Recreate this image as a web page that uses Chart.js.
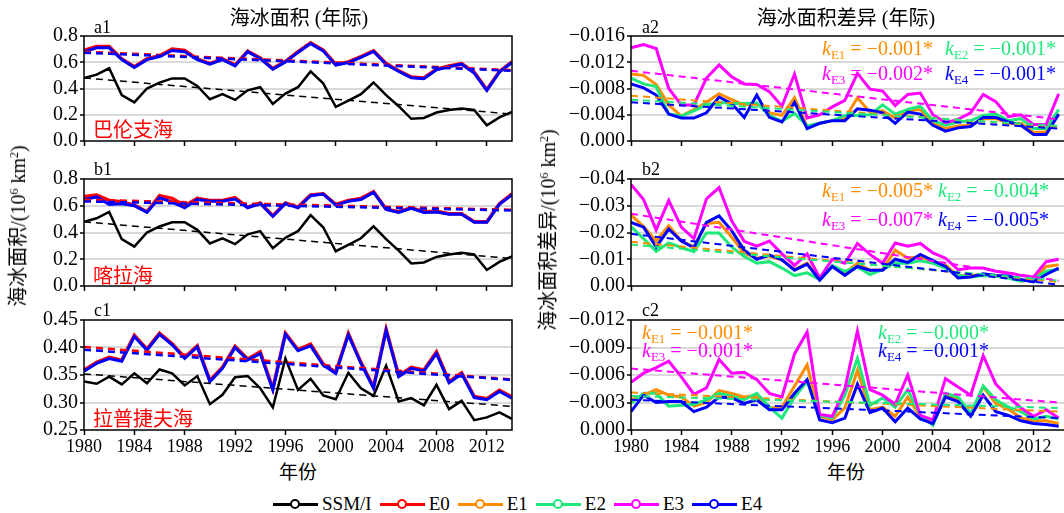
<!DOCTYPE html>
<html>
<head>
<meta charset="utf-8">
<script src="https://cdn.jsdelivr.net/npm/chart.js@4.4.1/dist/chart.umd.min.js"></script>
<style>
    html, body { margin: 0; padding: 0; background: #fff; overflow: hidden; }
    body { width: 1064px; height: 513px; position: relative; font-family: "Liberation Serif", "Noto Sans CJK SC", serif; color: #000; }
    canvas { position: absolute; }
    .t { position: absolute; white-space: nowrap; line-height: 1; }
    .mid { transform: translate(-50%, -50%); }
    .vmid { transform: translateY(-50%); }
    .ytitle { transform: translate(-50%, -50%) rotate(-90deg); font-size: 20px; }
    .ytitle sup { font-size: 12px; vertical-align: 7px; line-height: 0; }
    .sea { font-size: 20px; color: #ff0000; }
    .k { font-size: 20px; }
    .k sub { font-size: 13px; vertical-align: -4px; line-height: 0; }
    #legend { position: absolute; left: 273px; top: 493px; display: flex; align-items: center; font-size: 19px; }
    .item { display: flex; align-items: center; margin-right: 8px; }
    .sw { position: relative; width: 45px; height: 20px; margin-right: 4px; }
    .sw .ln { position: absolute; left: 0; right: 0; top: 8.5px; height: 3px; }
    .sw .dot { position: absolute; left: 17px; top: 5px; width: 6px; height: 6px; border-radius: 50%; background: #fff; border-width: 2.5px; border-style: solid; }
</style>
</head>
<body>

<canvas id="a1" width="530" height="133" style="left:0;top:22px"></canvas>
<canvas id="b1" width="530" height="135" style="left:0;top:165px"></canvas>
<canvas id="c1" width="530" height="154" style="left:0;top:306px"></canvas>
<canvas id="a2" width="545" height="133" style="left:530px;top:22px"></canvas>
<canvas id="b2" width="545" height="135" style="left:530px;top:165px"></canvas>
<canvas id="c2" width="545" height="154" style="left:530px;top:306px"></canvas>

<div class="t mid" style="left:299px;top:18px;font-size:20px">海冰面积 (年际)</div>
<div class="t mid" style="left:846px;top:18px;font-size:20px">海冰面积差异 (年际)</div>

<div class="t vmid" style="left:94px;top:27px;font-size:18px">a1</div>
<div class="t vmid" style="left:94px;top:169px;font-size:18px">b1</div>
<div class="t vmid" style="left:94px;top:310px;font-size:18px">c1</div>
<div class="t vmid" style="left:642px;top:27px;font-size:18px">a2</div>
<div class="t vmid" style="left:642px;top:169px;font-size:18px">b2</div>
<div class="t vmid" style="left:642px;top:310px;font-size:18px">c2</div>

<div class="t vmid sea" style="left:93px;top:130px">巴伦支海</div>
<div class="t vmid sea" style="left:93px;top:276px">喀拉海</div>
<div class="t vmid sea" style="left:93px;top:419px">拉普捷夫海</div>

<div class="t ytitle" style="left:18px;top:226px">海冰面积/(10<sup>6</sup> km<sup>2</sup>)</div>
<div class="t ytitle" style="left:548px;top:230px">海冰面积差异/(10<sup>6</sup> km<sup>2</sup>)</div>

<div class="t mid" style="left:298px;top:472px;font-size:19px">年份</div>
<div class="t mid" style="left:846px;top:472px;font-size:19px">年份</div>

<div id="legend"></div>

<script>
// years on the x axis
const years = [1980, 1981, 1982, 1983, 1984, 1985, 1986, 1987, 1988, 1989,
    1990, 1991, 1992, 1993, 1994, 1995, 1996, 1997, 1998, 1999,
    2000, 2001, 2002, 2003, 2004, 2005, 2006, 2007, 2008, 2009,
    2010, 2011, 2012, 2013, 2014];

const seriesNames = ["SSM/I", "E0", "E1", "E2", "E3", "E4"];
const seriesColors = ["#000000", "#ff0000", "#ff8c00", "#1ee87a", "#ff00ff", "#0000ff"];

// a1 Barents Sea (10^6 km^2)
const barentsSsmi = [0.48, 0.506, 0.554, 0.35, 0.294, 0.40, 0.445, 0.477, 0.477, 0.42, 0.318, 0.357, 0.313, 0.386, 0.41, 0.282, 0.361, 0.41, 0.53, 0.439, 0.26, 0.308, 0.357, 0.446, 0.35, 0.265, 0.169, 0.176, 0.217, 0.236, 0.248, 0.236, 0.12, 0.18, 0.222];
const barentsE0 = [0.69, 0.72, 0.72, 0.625, 0.565, 0.625, 0.65, 0.70, 0.69, 0.625, 0.59, 0.625, 0.578, 0.685, 0.632, 0.552, 0.607, 0.68, 0.748, 0.692, 0.583, 0.603, 0.643, 0.687, 0.59, 0.535, 0.487, 0.48, 0.547, 0.571, 0.59, 0.523, 0.391, 0.53, 0.603];
const barentsE4 = [0.68, 0.71, 0.71, 0.62, 0.56, 0.62, 0.643, 0.69, 0.68, 0.62, 0.585, 0.62, 0.573, 0.68, 0.627, 0.547, 0.602, 0.675, 0.742, 0.687, 0.578, 0.598, 0.638, 0.682, 0.585, 0.53, 0.482, 0.475, 0.542, 0.566, 0.585, 0.518, 0.386, 0.525, 0.598];
const barentsTrendSsmi = [0.48, 0.205];
const barentsTrendE0 = [0.68, 0.54];
const barentsTrendE4 = [0.672, 0.535];

// b1 Kara Sea
const karaSsmi = [0.48, 0.506, 0.554, 0.35, 0.294, 0.40, 0.445, 0.477, 0.477, 0.42, 0.318, 0.357, 0.313, 0.386, 0.41, 0.282, 0.361, 0.41, 0.53, 0.439, 0.26, 0.308, 0.357, 0.446, 0.35, 0.265, 0.169, 0.176, 0.217, 0.236, 0.248, 0.236, 0.12, 0.18, 0.222];
const karaE0 = [0.67, 0.68, 0.64, 0.63, 0.605, 0.555, 0.675, 0.655, 0.60, 0.655, 0.64, 0.64, 0.66, 0.59, 0.62, 0.525, 0.62, 0.59, 0.68, 0.69, 0.61, 0.64, 0.655, 0.705, 0.575, 0.555, 0.585, 0.555, 0.558, 0.54, 0.54, 0.48, 0.48, 0.615, 0.688];
const karaE4 = [0.646, 0.666, 0.61, 0.615, 0.60, 0.55, 0.66, 0.627, 0.585, 0.646, 0.634, 0.634, 0.65, 0.585, 0.617, 0.52, 0.617, 0.585, 0.675, 0.688, 0.605, 0.634, 0.646, 0.70, 0.573, 0.55, 0.58, 0.55, 0.553, 0.537, 0.537, 0.476, 0.476, 0.61, 0.683];
const karaTrendSsmi = [0.48, 0.205];
const karaTrendE0 = [0.645, 0.57];
const karaTrendE4 = [0.632, 0.565];

// c1 Laptev Sea
const laptevSsmi = [0.338, 0.334, 0.347, 0.333, 0.353, 0.335, 0.36, 0.353, 0.331, 0.348, 0.297, 0.314, 0.346, 0.348, 0.326, 0.291, 0.38, 0.323, 0.343, 0.313, 0.306, 0.354, 0.326, 0.312, 0.367, 0.302, 0.308, 0.295, 0.332, 0.288, 0.303, 0.268, 0.273, 0.282, 0.27];
const laptevE0 = [0.359, 0.373, 0.382, 0.377, 0.422, 0.397, 0.426, 0.407, 0.382, 0.403, 0.34, 0.364, 0.402, 0.379, 0.392, 0.325, 0.426, 0.396, 0.406, 0.37, 0.355, 0.425, 0.373, 0.328, 0.433, 0.349, 0.364, 0.359, 0.392, 0.338, 0.354, 0.311, 0.307, 0.322, 0.31];
const laptevE4 = [0.357, 0.371, 0.38, 0.375, 0.42, 0.395, 0.424, 0.405, 0.38, 0.401, 0.338, 0.362, 0.40, 0.377, 0.389, 0.323, 0.424, 0.394, 0.403, 0.368, 0.353, 0.423, 0.371, 0.326, 0.431, 0.347, 0.362, 0.357, 0.389, 0.336, 0.352, 0.309, 0.305, 0.32, 0.308];
const laptevTrendSsmi = [0.352, 0.293];
const laptevTrendE0 = [0.401, 0.342];
const laptevTrendE4 = [0.396, 0.341];

// a2 Barents difference
const barentsDiffE1 = [-0.0102, -0.0100, -0.0086, -0.0055, -0.0038, -0.0048, -0.0059, -0.0072, -0.0063, -0.0055, -0.0057, -0.0043, -0.0039, -0.0066, -0.0022, -0.0027, -0.0031, -0.0034, -0.0066, -0.0044, -0.0046, -0.0035, -0.0046, -0.0048, -0.0027, -0.0019, -0.0023, -0.0024, -0.0034, -0.0034, -0.0027, -0.0027, -0.0013, -0.0014, -0.0041];
const barentsDiffE2 = [-0.0096, -0.0087, -0.0083, -0.0041, -0.0038, -0.0046, -0.0055, -0.0059, -0.0057, -0.0057, -0.0058, -0.0039, -0.0030, -0.0042, -0.0023, -0.0027, -0.0031, -0.0039, -0.0039, -0.0040, -0.0055, -0.0041, -0.0048, -0.0053, -0.0031, -0.0024, -0.0029, -0.0031, -0.0039, -0.0041, -0.0031, -0.0034, -0.0019, -0.0019, -0.0048];
const barentsDiffE3 = [-0.0142, -0.0147, -0.0141, -0.0080, -0.0055, -0.0055, -0.0096, -0.0116, -0.0098, -0.0087, -0.0086, -0.0075, -0.0053, -0.0102, -0.0035, -0.0040, -0.0052, -0.0062, -0.0103, -0.0079, -0.0076, -0.0054, -0.0071, -0.0073, -0.0040, -0.0028, -0.0033, -0.0043, -0.0071, -0.0060, -0.0037, -0.0040, -0.0025, -0.0025, -0.0072];
const barentsDiffE4 = [-0.0087, -0.0081, -0.0070, -0.0041, -0.0035, -0.0035, -0.0043, -0.0067, -0.0057, -0.0036, -0.0070, -0.0036, -0.0029, -0.0059, -0.0019, -0.0027, -0.0031, -0.0031, -0.0049, -0.0047, -0.0043, -0.0027, -0.0044, -0.0041, -0.0024, -0.0015, -0.0020, -0.0022, -0.0036, -0.0036, -0.0029, -0.0024, -0.0010, -0.0010, -0.0041];
const barentsDiffTrend = [[-0.0069, -0.0021], [-0.0063, -0.0023], [-0.0107, -0.0033], [-0.0059, -0.0019]];
const barentsK = ["−0.001*", "−0.001*", "−0.002*", "−0.001*"];

// b2 Kara difference
const karaDiffE1 = [-0.0266, -0.0222, -0.0168, -0.0226, -0.0168, -0.0146, -0.0234, -0.0238, -0.0183, -0.0122, -0.0104, -0.0112, -0.0098, -0.0061, -0.0085, -0.0027, -0.0073, -0.0049, -0.0085, -0.0059, -0.0061, -0.0134, -0.0104, -0.0110, -0.0091, -0.0079, -0.0037, -0.0039, -0.0043, -0.0039, -0.0034, -0.0018, -0.0024, -0.0073, -0.0079];
const karaDiffE2 = [-0.0222, -0.0177, -0.0130, -0.0161, -0.0144, -0.0128, -0.0198, -0.0198, -0.0146, -0.0110, -0.0085, -0.0091, -0.0067, -0.0039, -0.0049, -0.0024, -0.0076, -0.0055, -0.0071, -0.0043, -0.0061, -0.0085, -0.0085, -0.0094, -0.0085, -0.0067, -0.0039, -0.0034, -0.0039, -0.0037, -0.0030, -0.0018, -0.0027, -0.0055, -0.0063];
const karaDiffE3 = [-0.0380, -0.0323, -0.0210, -0.0320, -0.0220, -0.0177, -0.0326, -0.0368, -0.0244, -0.0167, -0.0149, -0.0168, -0.0120, -0.0077, -0.0120, -0.0030, -0.0100, -0.0085, -0.0159, -0.0118, -0.0085, -0.0161, -0.0149, -0.0159, -0.0124, -0.0104, -0.0061, -0.0067, -0.0067, -0.0055, -0.0049, -0.0039, -0.0034, -0.0091, -0.0100];
const karaDiffE4 = [-0.0238, -0.0220, -0.0146, -0.0213, -0.0168, -0.0143, -0.0238, -0.0262, -0.0207, -0.0134, -0.0100, -0.0116, -0.0098, -0.0059, -0.0082, -0.0022, -0.0073, -0.0040, -0.0073, -0.0059, -0.0059, -0.0100, -0.0088, -0.0118, -0.0095, -0.0073, -0.0030, -0.0034, -0.0046, -0.0039, -0.0037, -0.0024, -0.0015, -0.0043, -0.0067];
const karaDiffTrend = [[-0.0165, -0.0015], [-0.0155, -0.0020], [-0.0270, -0.0020], [-0.0195, -0.0005]];
const karaK = ["−0.005*", "−0.004*", "−0.007*", "−0.005*"];

// c2 Laptev difference
const laptevDiffE1 = [-0.0033, -0.0038, -0.0044, -0.0038, -0.0036, -0.0026, -0.0030, -0.0043, -0.0040, -0.0036, -0.0038, -0.0024, -0.0025, -0.0048, -0.0071, -0.0015, -0.0011, -0.0024, -0.0065, -0.0022, -0.0025, -0.0015, -0.0036, -0.0014, -0.0007, -0.0038, -0.0033, -0.0016, -0.0047, -0.0029, -0.0023, -0.0013, -0.0010, -0.0010, -0.0007];
const laptevDiffE2 = [-0.0029, -0.0040, -0.0040, -0.0026, -0.0027, -0.0028, -0.0033, -0.0040, -0.0037, -0.0033, -0.0040, -0.0025, -0.0013, -0.0036, -0.0053, -0.0016, -0.0013, -0.0038, -0.0078, -0.0027, -0.0035, -0.0025, -0.0044, -0.0016, -0.0005, -0.0040, -0.0036, -0.0018, -0.0048, -0.0033, -0.0025, -0.0020, -0.0012, -0.0015, -0.0012];
const laptevDiffE3 = [-0.0052, -0.0062, -0.0068, -0.0075, -0.0058, -0.0039, -0.0046, -0.0077, -0.0062, -0.0063, -0.0055, -0.0040, -0.0036, -0.0083, -0.0107, -0.0017, -0.0015, -0.0045, -0.0108, -0.0044, -0.0038, -0.0028, -0.0060, -0.0016, -0.0011, -0.0056, -0.0047, -0.0038, -0.0081, -0.0050, -0.0036, -0.0024, -0.0015, -0.0022, -0.0013];
const laptevDiffE4 = [-0.0020, -0.0038, -0.0030, -0.0031, -0.0031, -0.0020, -0.0025, -0.0036, -0.0035, -0.0029, -0.0033, -0.0022, -0.0022, -0.0040, -0.0055, -0.0011, -0.0008, -0.0013, -0.0050, -0.0019, -0.0024, -0.0009, -0.0024, -0.0012, -0.0007, -0.0036, -0.0031, -0.0015, -0.0038, -0.0020, -0.0016, -0.0010, -0.0007, -0.0006, -0.0004];
const laptevDiffTrend = [[-0.0041, -0.0020], [-0.0037, -0.0024], [-0.0067, -0.0030], [-0.0033, -0.0013]];
const laptevK = ["−0.001*", "−0.000*", "−0.001*", "−0.001*"];

Chart.defaults.font.family = '"Liberation Serif", "Noto Sans CJK SC", serif';
Chart.defaults.font.size = 18;
Chart.defaults.color = "#000";

const framePlugin = {
    id: "frame",
    afterDraw(chart) {
        const a = chart.chartArea;
        const ctx = chart.ctx;
        ctx.save();
        ctx.strokeStyle = "#000";
        ctx.lineWidth = 1.5;
        ctx.strokeRect(a.left, a.top, a.right - a.left, a.bottom - a.top);
        ctx.restore();
    }
};

function solid(data, color, width, order) {
    return { data, borderColor: color, borderWidth: width, pointRadius: 0, tension: 0, fill: false, order };
}

function trend(ends, color, width, order) {
    return {
        data: [{ x: years[0], y: ends[0] }, { x: years[years.length - 1], y: ends[1] }],
        borderColor: color, borderWidth: width, borderDash: [7, 5], pointRadius: 0, fill: false, order
    };
}

function fmt(v, dec) {
    const s = (Math.abs(v) < 1e-9 ? 0 : v).toFixed(dec);
    return s.replace("-", "\u2212");
}

function drawPanel(id, opt) {
    const canvas = document.getElementById(id);
    new Chart(canvas, {
        type: "line",
        data: { labels: years, datasets: opt.datasets },
        options: {
            responsive: false,
            animation: false,
            devicePixelRatio: 1,
            layout: { padding: { left: 0, right: opt.padRight, top: 14, bottom: opt.labels ? 0 : 4 } },
            plugins: { legend: { display: false }, tooltip: { enabled: false } },
            scales: {
                x: {
                    type: "linear",
                    min: 1980,
                    max: opt.xMax,
                    border: { display: false },
                    grid: { drawOnChartArea: false, tickLength: 5, tickColor: "#000", tickWidth: 1.5 },
                    ticks: {
                        display: opt.labels,
                        stepSize: 4,
                        includeBounds: false,
                        autoSkip: false,
                        maxRotation: 0,
                        padding: 1,
                        font: { size: 18 },
                        callback: (v) => String(v)
                    },
                    afterFit: (s) => { s.height = opt.labels ? 30 : 8; }
                },
                y: {
                    min: opt.min,
                    max: opt.max,
                    reverse: !!opt.reverse,
                    border: { display: false },
                    grid: {
                        lineWidth: 2,
                        color: (c) => (c.index === 0 || c.index === opt.nTicks - 1) ? "rgba(0,0,0,0)" : "#d9d9d9",
                        tickLength: 4,
                        tickColor: "#000",
                        tickWidth: 1.5
                    },
                    ticks: {
                        stepSize: opt.step,
                        autoSkip: false,
                        padding: 2,
                        font: { size: 20 },
                        callback: (v) => fmt(v, opt.dec)
                    },
                    afterFit: (s) => { s.width = opt.yWidth; }
                }
            }
        },
        plugins: [framePlugin]
    });
}

function leftSets(ssmi, e0, e4, tS, t0, t4) {
    return [
        trend(t4, seriesColors[5], 2.5, -3),
        trend(t0, seriesColors[1], 2.5, -2),
        trend(tS, seriesColors[0], 1.5, -1),
        solid(e4, seriesColors[5], 3, 0),
        solid(e0, seriesColors[1], 3.5, 4),
        solid(ssmi, seriesColors[0], 2.5, 5)
    ];
}

function rightSets(e1, e2, e3, e4, tr) {
    return [
        trend(tr[3], seriesColors[5], 2, -4),
        trend(tr[2], seriesColors[4], 2, -3),
        trend(tr[1], seriesColors[3], 2, -2),
        trend(tr[0], seriesColors[2], 2, -1),
        solid(e4, seriesColors[5], 3, 0),
        solid(e3, seriesColors[4], 3, 1),
        solid(e2, seriesColors[3], 3, 2),
        solid(e1, seriesColors[2], 3, 3)
    ];
}

const leftBase = { padRight: 18, yWidth: 84, xMax: 2014 };
const rightBase = { padRight: 10, yWidth: 101, xMax: 2014.5, reverse: true };

drawPanel("a1", Object.assign({}, leftBase, { min: 0, max: 0.8, step: 0.2, dec: 1, nTicks: 5, labels: false,
    datasets: leftSets(barentsSsmi, barentsE0, barentsE4, barentsTrendSsmi, barentsTrendE0, barentsTrendE4) }));
drawPanel("b1", Object.assign({}, leftBase, { min: 0, max: 0.8, step: 0.2, dec: 1, nTicks: 5, labels: false,
    datasets: leftSets(karaSsmi, karaE0, karaE4, karaTrendSsmi, karaTrendE0, karaTrendE4) }));
drawPanel("c1", Object.assign({}, leftBase, { min: 0.25, max: 0.45, step: 0.05, dec: 2, nTicks: 5, labels: true,
    datasets: leftSets(laptevSsmi, laptevE0, laptevE4, laptevTrendSsmi, laptevTrendE0, laptevTrendE4) }));

drawPanel("a2", Object.assign({}, rightBase, { min: -0.016, max: 0, step: 0.004, dec: 3, nTicks: 5, labels: false,
    datasets: rightSets(barentsDiffE1, barentsDiffE2, barentsDiffE3, barentsDiffE4, barentsDiffTrend) }));
drawPanel("b2", Object.assign({}, rightBase, { min: -0.04, max: 0, step: 0.01, dec: 2, nTicks: 5, labels: false,
    datasets: rightSets(karaDiffE1, karaDiffE2, karaDiffE3, karaDiffE4, karaDiffTrend) }));
drawPanel("c2", Object.assign({}, rightBase, { min: -0.012, max: 0, step: 0.003, dec: 3, nTicks: 5, labels: true,
    datasets: rightSets(laptevDiffE1, laptevDiffE2, laptevDiffE3, laptevDiffE4, laptevDiffTrend) }));

// slope labels: E1, E2, E3, E4 positions [left, centerY]
function addK(values, spots) {
    const keys = ["E1", "E2", "E3", "E4"];
    const colors = [seriesColors[2], seriesColors[3], seriesColors[4], seriesColors[5]];
    values.forEach((v, i) => {
        const d = document.createElement("div");
        d.className = "t vmid k";
        d.style.left = spots[i][0] + "px";
        d.style.top = spots[i][1] + "px";
        d.style.color = colors[i];
        d.innerHTML = "<i>k</i><sub>" + keys[i] + "</sub> = " + v;
        document.body.appendChild(d);
    });
}
addK(barentsK, [[822, 48], [945, 48], [822, 73], [945, 73]]);
addK(karaK, [[822, 190], [938, 190], [822, 219], [938, 219]]);
addK(laptevK, [[642, 332], [878, 332], [642, 350], [878, 350]]);

// legend
const legend = document.getElementById("legend");
seriesNames.forEach((name, i) => {
    const item = document.createElement("div");
    item.className = "item";
    item.innerHTML = '<div class="sw"><div class="ln" style="background:' + seriesColors[i] + '"></div>' +
        '<div class="dot" style="border-color:' + seriesColors[i] + '"></div></div><span>' + name + "</span>";
    legend.appendChild(item);
});
</script>
</body>
</html>
